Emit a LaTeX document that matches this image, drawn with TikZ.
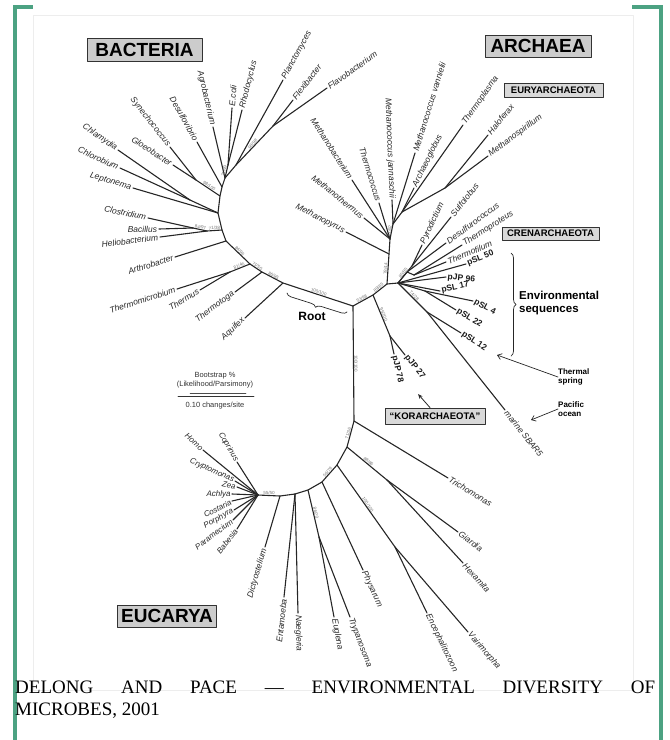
\documentclass[tikz,border=0pt]{standalone}
\usepackage{fontspec}
\setmainfont{Liberation Serif}
\setsansfont{Liberation Sans}
\usetikzlibrary{arrows.meta,decorations.pathreplacing}
\definecolor{frameg}{HTML}{4CA282}
\newcommand\leafL[5][lbl]{\coordinate (#3) at (#4);\draw[br] (#2) -- (#3) node[#1,pos=1,sloped,anchor=east] (#3l) {#5};}
\newcommand\leafR[5][lbl]{\coordinate (#3) at (#4);\draw[br] (#2) -- (#3) node[#1,pos=1,sloped,anchor=west] (#3l) {#5};}
\newcommand\leafA[7][lbl]{\coordinate (#3) at (#4);\draw[br] (#2) -- (#3);\node[#1,rotate=#5,anchor=#6] (#3l) at (#3) {#7};}
\newcommand\bsl[3]{\path (#1) -- (#2) node[bs,pos=.5,sloped,above] (bs#1#2) {#3};}
\begin{document}
\begin{tikzpicture}[x=1pt,y=-1pt, line join=round, line cap=round,
 br/.style={line width=1.1pt, draw=black!85},
 lbl/.style={font=\sffamily\itshape\fontsize{8.5}{9}\selectfont, text=black!85, inner sep=1.5pt},
 lbls/.style={font=\sffamily\itshape\fontsize{8}{9}\selectfont, text=black!85, inner sep=1.2pt},
 lblb/.style={font=\sffamily\bfseries\fontsize{8.5}{9}\selectfont, text=black!90, inner sep=1.5pt},
 bs/.style={font=\sffamily\fontsize{4.5}{5}\selectfont, text=black!55, inner sep=0.6pt},
 bigbox/.style={draw=black!80, fill=black!20, line width=1pt, font=\sffamily\bfseries\fontsize{19}{20}\selectfont, inner sep=0pt},
 smallbox/.style={draw=black!80, fill=black!15, line width=0.8pt, font=\sffamily\bfseries\fontsize{9.5}{10}\selectfont, inner sep=0pt},
 sc/.style={font=\sffamily\fontsize{7.5}{8}\selectfont, text=black!80, inner sep=0pt},
 ann/.style={font=\sffamily\bfseries\fontsize{8}{9}\selectfont, inner sep=0pt, align=left},
 env/.style={font=\sffamily\bfseries\fontsize{11.5}{13}\selectfont, inner sep=0pt, align=left},
 brc/.style={decorate, decoration={brace, amplitude=5pt}, line width=0.7pt, draw=black!85},
 captext/.style={font=\fontsize{19}{22}\selectfont, inner sep=0pt}
]
\useasboundingbox (0,0) rectangle (670,740);
% ---------- frame ----------
\draw[black!7] (33,15) rectangle (633,690);
\fill[frameg] (13,5) rectangle (17,740);
\fill[frameg] (13,5) rectangle (33,9);
\fill[frameg] (658.5,5) rectangle (662.5,740);
\fill[frameg] (632,5) rectangle (662.5,9);

% ---------- Bacteria ----------
\coordinate (R0) at (353,306);
\coordinate (B1) at (283,283);
\coordinate (B2) at (262,272);
\coordinate (B3) at (250,264);
\coordinate (B3a) at (230,272);
\coordinate (B4) at (226,241);
\coordinate (B5) at (222,230);
\coordinate (C1) at (207,231);
\coordinate (C2) at (193,228);
\coordinate (B6) at (218,213);
\coordinate (CC) at (190,200);
\coordinate (B7) at (220,196);
\coordinate (GS) at (196,180);
\coordinate (B8) at (222,187);
\coordinate (B9) at (225,178);
\coordinate (ER) at (228,165);
\coordinate (BT) at (236,165);
\coordinate (FF) at (273,126);
\draw[br] (R0) -- (B1) -- (B2) -- (B3) -- (B4) -- (B5) -- (B6) -- (B7) -- (B8) -- (B9) -- (BT) -- (FF);
\draw[br] (B3) -- (B3a);
\draw[br] (B5) -- (C1) -- (C2);
\draw[br] (B6) -- (CC);
\draw[br] (B7) -- (GS);
\draw[br] (B9) -- (ER);
\leafL{B1}{aqu}{245,318}{Aquifex}
\leafL{B2}{tmt}{235,292}{Thermotoga}
\leafL{B3a}{ths}{200,290}{Thermus}
\leafL{B3a}{tmm}{177,289}{Thermomicrobium}
\leafL{B4}{art}{175,257}{Arthrobacter}
\leafL{C1}{hel}{160,237}{Heliobacterium}
\leafL{C2}{clo}{148,218}{Clostridium}
\leafL{C2}{bac}{159,229}{Bacillus}
\leafL{B6}{lep}{133,188}{Leptonema}
\leafL{CC}{chy}{118,150}{Chlamydia}
\leafL{CC}{chl}{120,168}{Chlorobium}
\leafL{GS}{syn}{170,147}{Synechococcus}
\leafL{GS}{glo}{173,165}{Gloeobacter}
\leafL{B8}{des}{197,142}{Desulfovibrio}
\leafL{B9}{agr}{213,127}{Agrobacterium}
\leafR{ER}{eco}{232,108}{E.coli}
\leafR{ER}{rho}{242,110}{Rhodocyclus}
\leafR{BT}{pla}{283,80}{Planctomyces}
\leafR{FF}{fle}{293,100}{Flexibacter}
\leafR{FF}{fla}{327,88}{Flavobacterium}

% ---------- Archaea ----------
\coordinate (A0) at (373,295);
\coordinate (A1) at (387,284);
\coordinate (K) at (390,336);
\coordinate (E0) at (389,254);
\coordinate (E1) at (390,239);
\coordinate (E2) at (393,224);
\coordinate (HT) at (402,212);
\coordinate (HM) at (445,188);
\coordinate (C0) at (398,283);
\coordinate (CU) at (412,266);
\coordinate (CT) at (407,272);
\coordinate (CY) at (414,275);
\draw[br] (R0) -- (A0) -- (A1) -- (E0) -- (E1) -- (E2) -- (HT) -- (HM);
\draw[br] (A0) -- (K);
\draw[br] (A1) -- (C0) -- (CU);
\draw[br] (C0) -- (CT) -- (CY);
\leafR[lblb]{K}{p27}{405,355}{pJP 27}
\leafR[lblb]{K}{p78}{394,354}{pJP 78}
\leafL{E0}{mpy}{346,232}{Methanopyrus}
\leafL{E1}{mba}{352,180}{Methanobacterium}
\leafL{E1}{mth}{364,218}{Methanothermus}
\leafL{E1}{tco}{379,203}{Thermococcus}
\leafL{E2}{mja}{392,200}{Methanococcus jannaschii}
\leafR{E2}{mva}{415,153}{Methanococcus vannielii}
\leafR{HT}{arg}{414,188}{Archaeoglobus}
\leafR{HT}{tpl}{463,125}{Thermoplasma}
\leafR{HM}{hal}{488,135}{Haloferax}
\leafR{HM}{msp}{488,156}{Methanospirillum}
\leafR{CU}{pyr}{422,245}{Pyrodictium}
\leafR{CU}{sul}{451,217}{Sulfolobus}
\leafR{CT}{dsc}{446,243}{Desulfurococcus}
\leafR{CY}{tpr}{462,245}{Thermoproteus}
\leafR{CY}{tfi}{446,262}{Thermofilum}
\leafA[lblb]{C0}{s50}{466,264}{22}{west}{pSL 50}
\leafA[lblb]{C0}{j96}{446,277}{-6}{west}{pJP 96}
\leafA[lblb]{C0}{s17}{440,291}{12}{west}{pSL 17}
\coordinate (CP) at (425,291);
\coordinate (CM) at (427,312);
\draw[br] (C0) -- (CP);
\draw[br] (C0) -- (CM);
\leafA[lblb]{CP}{s04}{473,301}{-28}{west}{pSL 4}
\leafA[lblb]{CP}{s22}{456,310}{-31}{west}{pSL 22}
\leafA[lblb]{CM}{s12}{461,333}{-33}{west}{pSL 12}
\leafR{CM}{sba}{505,410}{marine SBAR5}

% ---------- Eucarya ----------
\coordinate (U0) at (354,421);
\coordinate (U1) at (347,447);
\coordinate (GH) at (387,480);
\coordinate (U2) at (337,465);
\coordinate (EV) at (395,547);
\coordinate (U3) at (322,482);
\coordinate (U4) at (308,490);
\coordinate (ET) at (319,537);
\coordinate (U5) at (295,494);
\coordinate (U6) at (280,496);
\coordinate (CR) at (258,495);
\draw[br] (R0) -- (U0) -- (U1) -- (U2) -- (U3) -- (U4) -- (U5) -- (U6) -- (CR);
\draw[br] (U1) -- (GH);
\draw[br] (U2) -- (EV);
\draw[br] (U4) -- (ET);
\leafR{U0}{tri}{448,478}{Trichomonas}
\leafR{GH}{gia}{458,532}{Giardia}
\leafR{GH}{hex}{463,563}{Hexamita}
\leafR{EV}{enc}{427,613}{Encephalitozoon}
\leafR{EV}{vai}{468,632}{Vairimorpha}
\leafR{U3}{phy}{363,570}{Physarum}
\leafR{ET}{eug}{334,617}{Euglena}
\leafR{ET}{try}{350,617}{Trypanosoma}
\leafR{U5}{nae}{298,613}{Naegleria}
\leafL{U5}{ent}{284,597}{Entamoeba}
\leafL{U6}{dic}{265,547}{Dictyostelium}
\leafA[lbls]{CR}{hom}{203,450}{-42}{east}{Homo}
\leafA[lbls]{CR}{cop}{237,462}{-60}{east}{Coprinus}
\leafA[lbls]{CR}{cry}{235,481}{-24}{east}{Cryptomonas}
\leafA[lbls]{CR}{zea}{237,487}{-12}{east}{Zea}
\leafA[lbls]{CR}{ach}{232,494}{0}{east}{Achlya}
\leafA[lbls]{CR}{cos}{232,501}{27}{east}{Costaria}
\leafA[lbls]{CR}{por}{234,510}{29}{east}{Porphyra}
\leafA[lbls]{CR}{par}{233,520}{37}{east}{Paramecium}
\leafA[lbls]{CR}{bab}{237,529}{52}{east}{Babesia}

% ---------- bootstrap values ----------
\bsl{R0}{B1}{100/100}
\bsl{B1}{B2}{86/85}
\bsl{B2}{B3}{71/50}
\bsl{B3}{B3a}{81/45}
\bsl{B3}{B4}{84/96}
\bsl{C2}{C1}{84/97}
\bsl{C1}{B5}{71/38}
\bsl{GS}{B7}{98/100}
\bsl{ER}{B9}{71/49}
\bsl{FF}{BT}{98/98}
\bsl{R0}{A0}{53/98}
\bsl{A0}{A1}{89/85}
\bsl{A1}{E0}{78/44}
\bsl{E1}{E2}{71/62}
\bsl{C0}{CU}{85/85}
\bsl{C0}{CM}{74/28}
\bsl{A0}{K}{95/100}
\bsl{R0}{U0}{100/100}
\bsl{U0}{U1}{71/36}
\bsl{U1}{GH}{88/86}
\bsl{U2}{EV}{100/100}
\bsl{U2}{U3}{56/79}
\bsl{U4}{ET}{86/20}
\bsl{U6}{CR}{55/50}

% ---------- group boxes ----------
\node[bigbox, minimum width=115pt, minimum height=23pt] (bact) at (144.5,49.5) {BACTERIA};
\node[bigbox, minimum width=106pt, minimum height=22pt] (arch) at (538,46) {ARCHAEA};
\node[bigbox, minimum width=99pt, minimum height=22pt] (euca) at (167,616) {EUCARYA};
\node[smallbox, minimum width=99pt, minimum height=14pt] (eury) at (553.5,90) {EURYARCHAEOTA};
\node[smallbox, minimum width=97pt, minimum height=13pt] (cren) at (550.5,233.5) {CRENARCHAEOTA};
\node[smallbox, minimum width=100pt, minimum height=16pt] (kor) at (435,416) {“KORARCHAEOTA”};
\coordinate (karr) at (418,394);
\draw[-{Stealth[length=5pt,width=4pt]}, line width=0.8pt, black!85] ([xshift=-5pt]kor.north) -- (karr);

% ---------- annotations ----------
\coordinate (rb1) at (347,312);
\coordinate (rb2) at (287,293);
\draw[brc] (rb1) -- (rb2);
\node[font=\sffamily\bfseries\fontsize{12}{13}\selectfont, inner sep=0pt] (rootl) at (312,316) {Root};

\coordinate (bra) at (511,253);
\coordinate (brb) at (511,356);
\draw[brc] (bra) -- (brb);
\node[env, anchor=west] (envs) at (519,303) {Environmental\\sequences};

\node[ann, anchor=west] (thsp) at (558,377) {Thermal\\spring};
\coordinate (tsp) at (497,355);
\draw[-{Straight Barb[length=4pt,width=6pt]}, line width=0.7pt, black!85] (thsp.west) -- (tsp);
\node[ann, anchor=west] (paco) at (558,409) {Pacific\\ocean};
\coordinate (pco) at (531,420);
\draw[-{Straight Barb[length=4pt,width=6pt]}, line width=0.7pt, black!85] (paco.west) -- (pco);

% ---------- scale ----------
\node[sc] (bsp) at (215,376) {Bootstrap \%};
\node[sc] (lkp) at (215,385) {(Likelihood/Parsimony)};
\coordinate (sb1) at (178,396);
\coordinate (sb2) at (254,396);
\coordinate (sb3) at (190,393.5);
\coordinate (sb4) at (246,393.5);
\draw[line width=0.6pt, black!80] (sb1) -- (sb2);
\draw[line width=0.5pt, black!70] (sb3) -- (sb4);
\node[sc] (cps) at (215,406) {0.10 changes/site};

% ---------- caption ----------
\node[captext, anchor=base west] (cap1) at (15,693) {\makebox[640pt][s]{DELONG AND PACE — ENVIRONMENTAL DIVERSITY OF}};
\node[captext, anchor=base west] (cap2) at (15,715) {MICROBES, 2001};
\end{tikzpicture}
\end{document}
